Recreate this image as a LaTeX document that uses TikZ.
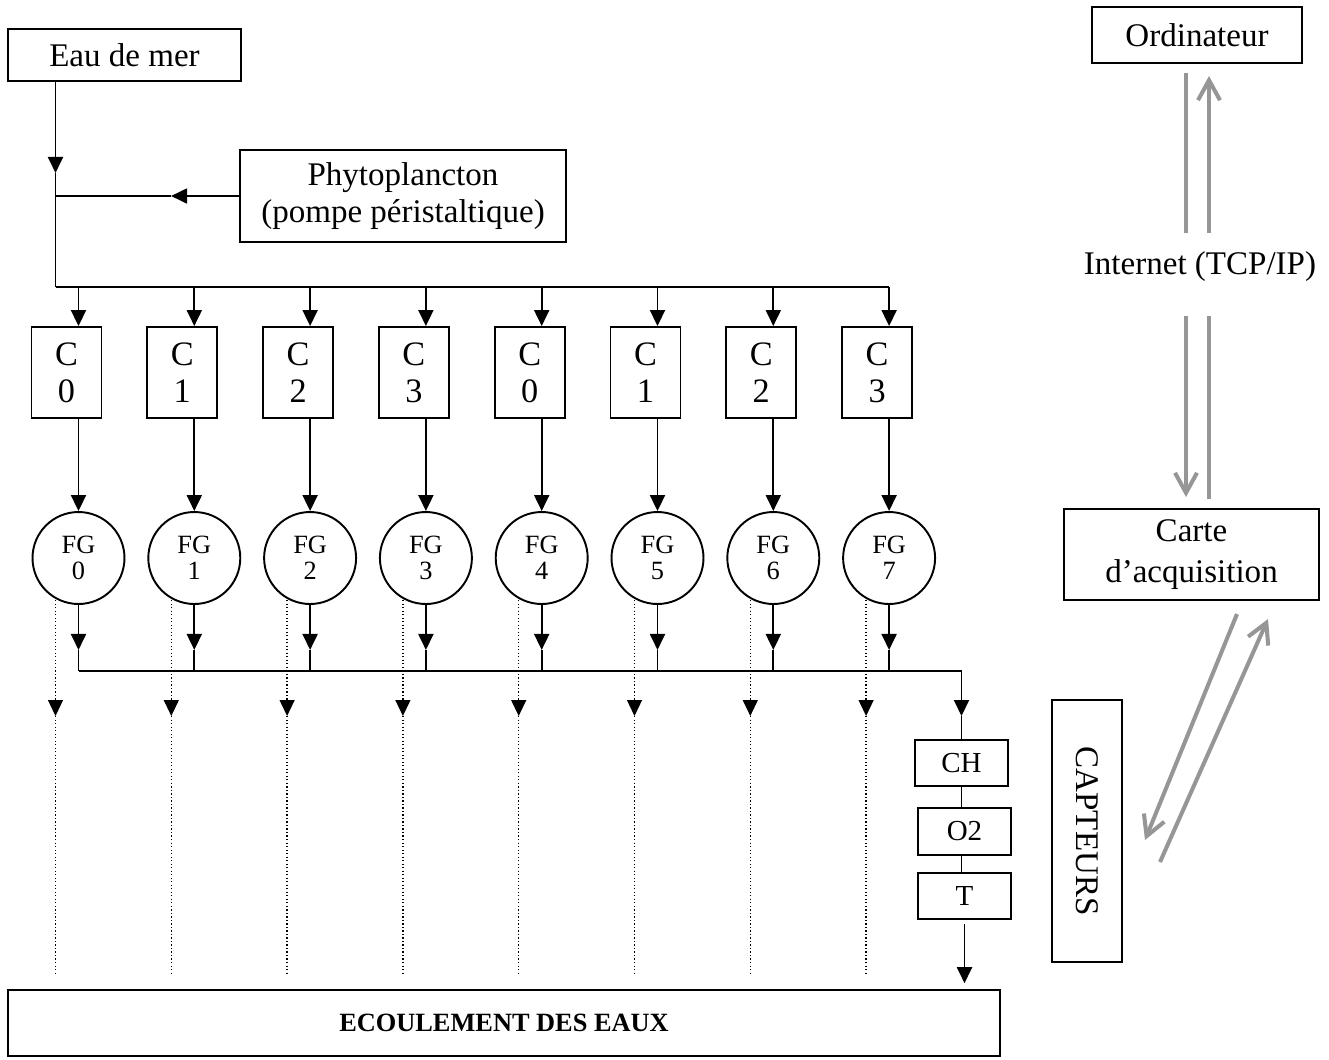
\documentclass[tikz,border=0pt]{standalone}
\usepackage{fontspec}
\setmainfont{Liberation Serif}
\usetikzlibrary{arrows.meta,positioning}
\definecolor{liengris}{RGB}{150,150,150}

\begin{document}
\begin{tikzpicture}[x=0.02cm, y=-0.02cm,
  box/.style={rectangle, draw=black, line width=1.1pt, align=center, inner sep=0pt,
              font=\fontsize{18.8}{21}\selectfont},
  cuve/.style={box, minimum width=1.4cm, minimum height=1.82cm,
               font=\fontsize{19.5}{21}\selectfont},
  fg/.style={circle, draw=black, line width=1.1pt, minimum size=1.84cm, inner sep=0pt,
             align=center, font=\fontsize{15}{14.8}\selectfont},
  sonde/.style={box, minimum width=1.86cm, minimum height=0.93cm,
                font=\fontsize{16.5}{17}\selectfont},
  arr/.style={-{Triangle[length=0.32cm, width=0.3cm]}, line width=1.1pt},
  fuite/.style={line width=0.7pt, dash pattern=on 0.7pt off 1.3pt},
  fuitearr/.style={fuite, -{Triangle[length=0.32cm, width=0.3cm]}},
  gline/.style={line width=2.3pt, draw=liengris},
  garr/.style={gline, -{Straight Barb[length=0.4cm, width=0.44cm]}},
]
\useasboundingbox (0,0) rectangle (1329,1059);

% Alimentation
\node[box, minimum width=4.66cm, minimum height=1.04cm] (eau) at (124.5,55) {Eau de mer};
\node[box, minimum width=6.52cm, minimum height=1.84cm] (phyto) at (403,196)
  {Phytoplancton\\(pompe péristaltique)};
\coordinate (tronc) at (55.5,287);

\draw[arr] (eau.south -| tronc) -- ++(0,91) coordinate (t1);
\draw[line width=1.1pt] (t1) -- (tronc);
\draw[arr] (phyto.west) -- ++(-68,0) coordinate (p1);
\draw[line width=1.1pt] (p1) -- (p1 -| tronc);

% Cuves et filtreurs
\foreach \i/\n in {0/0,1/1,2/2,3/3,4/0,5/1,6/2,7/3} {
  \pgfmathsetmacro\xc{78.5+115.8*\i}
  \node[cuve] (C\i) at (\xc-12,372.5) {C\\\n};
  \node[fg] (FG\i) at (\xc,558) {FG\\\i};
  \coordinate (haut\i) at (\xc,287);
  \coordinate (bas\i) at (\xc,671);
  \draw[arr] (haut\i) -- (haut\i |- C\i.north);
  \draw[arr] (FG\i |- C\i.south) -- (FG\i.north);
  \draw[arr] (FG\i.south) -- ++(0,45) coordinate (m\i);
  \draw[line width=1.1pt] (m\i) -- (bas\i);
  \draw[fuitearr] (\xc-23,600) -- (\xc-23,716) coordinate (f\i);
  \draw[fuite] (f\i) -- (\xc-23,975);
}
\draw[line width=1.1pt] (tronc) -- (haut7);

% Capteurs en ligne
\node[sonde] (CH) at (961.5,763) {CH};
\node[sonde] (O2) at (964.5,831.5) {O2};
\node[sonde] (T) at (964.5,896) {T};
\draw[line width=1.1pt] (bas0) -- (bas0 -| CH);
\draw[arr] (bas0 -| CH) -- ++(0,45) coordinate (m8);
\draw[line width=1.1pt] (m8) -- (CH.north);
\draw[line width=1.1pt] (CH) -- (CH |- O2.north);
\draw[line width=1.1pt] (CH |- O2.south) -- (CH |- T.north);

% Evacuation
\node[box, minimum width=19.84cm, minimum height=1.32cm,
      font=\bfseries\fontsize{15}{16}\selectfont] (ecoul) at (504,1023) {ECOULEMENT DES EAUX};
\draw[arr, shorten <=2pt] (T.south) -- ++(0,63);

% Acquisition
\node[box, minimum width=4.2cm, minimum height=1.12cm] (ordi) at (1197,35) {Ordinateur};
\node[font=\fontsize{18.8}{21}\selectfont] (net) at (1200,267) {Internet (TCP/IP)};
\node[box, minimum width=5.1cm, minimum height=1.82cm] (carte) at (1191.5,554.5)
  {Carte\\[2pt]d’acquisition};
\node[box, rotate=-90, minimum width=5.24cm, minimum height=1.4cm] (capt) at (1087,831)
  {CAPTEURS};

\coordinate (na) at (1186,73);  \coordinate (nb) at (1186,233);
\coordinate (nc) at (1209,233); \coordinate (nd) at (1209,76);
\coordinate (ne) at (1186,316); \coordinate (nf) at (1186,497);
\coordinate (ng) at (1209,499); \coordinate (nh) at (1209,316);
\coordinate (da) at (1237,614); \coordinate (db) at (1145,840);
\coordinate (dc) at (1160,862); \coordinate (dd) at (1268,619);

\draw[gline] (na) -- (nb);
\draw[garr] (nc) -- (nd);
\draw[garr] (ne) -- (nf);
\draw[gline] (ng) -- (nh);
\draw[garr] (da) -- (db);
\draw[garr] (dc) -- (dd);

\end{tikzpicture}
\end{document}
